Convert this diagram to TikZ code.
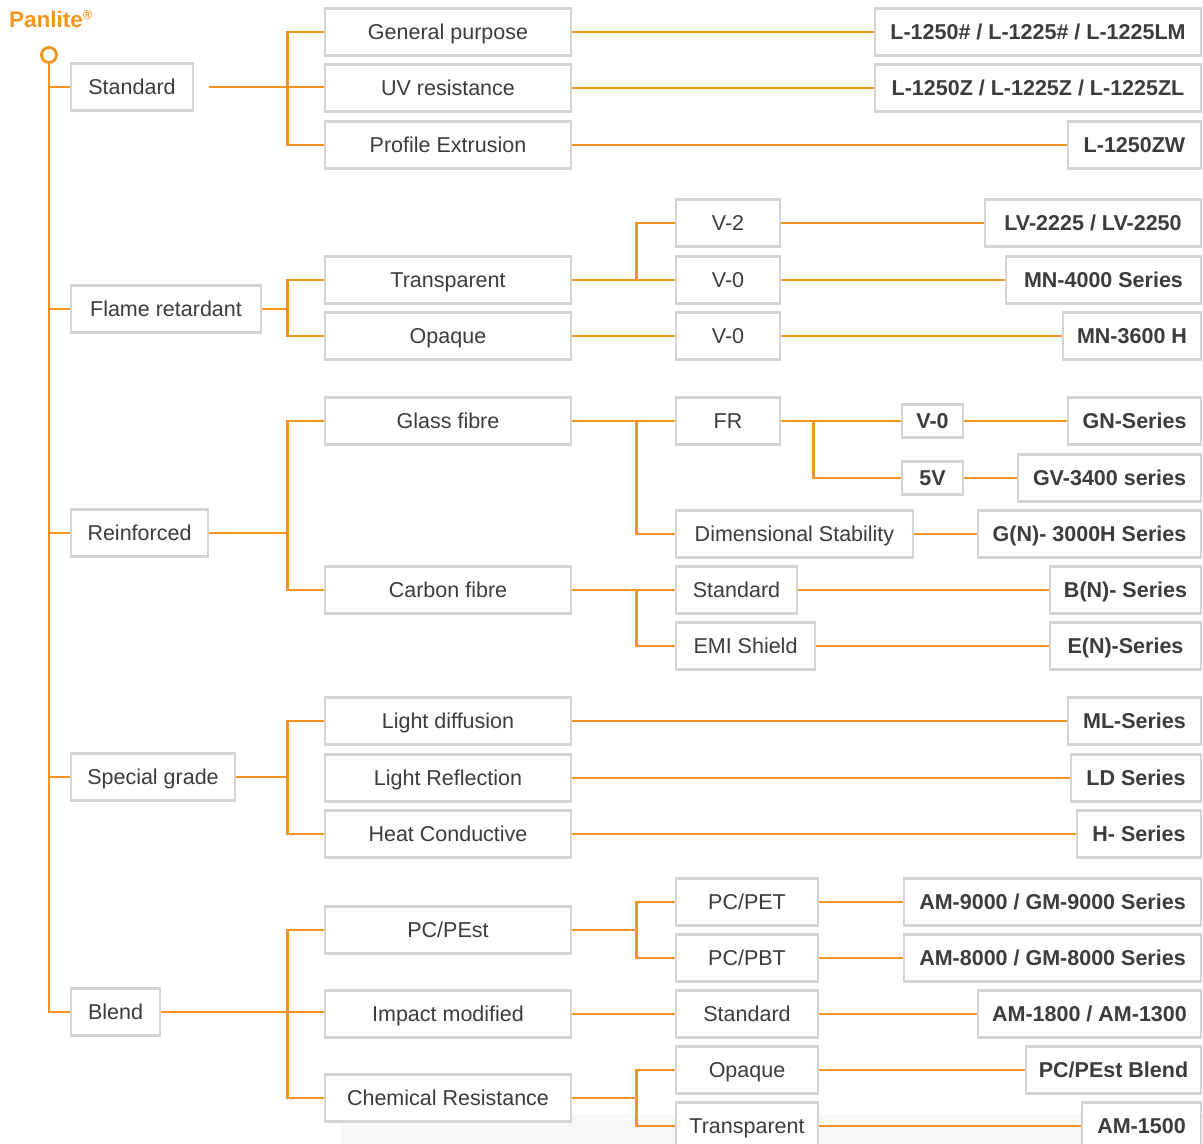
\documentclass[tikz,border=0pt]{standalone}
\usepackage{fontspec}
\setmainfont{Liberation Sans}
\definecolor{org}{HTML}{F7941D}
\definecolor{bx}{HTML}{D4D4D4}
\definecolor{tx}{HTML}{3C3C3C}
\definecolor{bg}{HTML}{F8F8F8}
\tikzset{
  bbox/.style={draw=bx, line width=2.5pt, fill=white, text=tx, inner sep=0pt,
     font=\fontsize{21.5}{24}\selectfont, text height=15.5pt, text depth=0pt, minimum height=47pt},
  pbox/.style={bbox, font=\fontsize{21.5}{24}\selectfont\bfseries},
  sbox/.style={pbox, minimum height=33pt},
  wire/.style={draw=org, line width=2.8pt},
}
\newcommand{\bxl}[6][bbox]{% style, name, left, right, cy, text
  \node[#1, minimum width=#4pt-#3pt] (#2) at ({(#3+#4)/2}, #5) {#6};}
\begin{document}
\begin{tikzpicture}[x=1pt,y=-1pt]
\useasboundingbox (0,0) rectangle (1203,1144);
\fill[bg] (341,1114) rectangle (1203,1144);
% title
\node[anchor=base west, inner sep=0pt, text=org, font=\fontsize{22.5}{24}\selectfont\bfseries] (title) at (9,27) {Panlite\textsuperscript{\fontsize{13}{13}\selectfont ®}};
\node[circle, draw=org, fill=white, line width=2.8pt, minimum size=15pt, inner sep=0pt] (root) at (49,55) {};
% level 1
\bxl{std}{71}{193}{87}{Standard}
\bxl{flr}{71}{261}{309}{Flame retardant}
\bxl{rei}{71}{208}{533}{Reinforced}
\bxl{spg}{71}{235}{777}{Special grade}
\bxl{bld}{71}{160}{1012}{Blend}
% level 2
\bxl{gp}{325}{571}{32}{General purpose}
\bxl{uv}{325}{571}{88}{UV resistance}
\bxl{pe}{325}{571}{145}{Profile Extrusion}
\bxl{tra}{325}{571}{280}{Transparent}
\bxl{opq}{325}{571}{336}{Opaque}
\bxl{gf}{325}{571}{421}{Glass fibre}
\bxl{cf}{325}{571}{590}{Carbon fibre}
\bxl{ld}{325}{571}{721}{Light diffusion}
\bxl{lr}{325}{571}{778}{Light Reflection}
\bxl{hc}{325}{571}{834}{Heat Conductive}
\bxl{pcp}{325}{571}{930}{PC/PEst}
\bxl{imp}{325}{571}{1014}{Impact modified}
\bxl{chr}{325}{571}{1098}{Chemical Resistance}
% level 3
\bxl{vtwo}{676}{780}{223}{V-2}
\bxl{vzeroa}{676}{780}{280}{V-0}
\bxl{vzerob}{676}{780}{336}{V-0}
\bxl{fr}{676}{780}{421}{FR}
\bxl{dim}{676}{913}{534}{Dimensional Stability}
\bxl{cstd}{676}{797}{590}{Standard}
\bxl{emi}{676}{815}{646}{EMI Shield}
\bxl{pet}{676}{818}{902}{PC/PET}
\bxl{pbt}{676}{818}{958}{PC/PBT}
\bxl{istd}{676}{818}{1014}{Standard}
\bxl{copq}{676}{818}{1070}{Opaque}
\bxl{ctra}{676}{818}{1126}{Transparent}
% level 4 small
\bxl[sbox]{svzero}{902}{963}{421}{V-0}
\bxl[sbox]{sfive}{902}{963}{478}{5V}
% products
\bxl[pbox]{p1}{875}{1201}{32}{L-1250\# / L-1225\# / L-1225LM}
\bxl[pbox]{p2}{875}{1201}{88}{L-1250Z / L-1225Z / L-1225ZL}
\bxl[pbox]{p3}{1068}{1201}{145}{L-1250ZW}
\bxl[pbox]{p4}{985}{1201}{223}{LV-2225 / LV-2250}
\bxl[pbox]{p5}{1006}{1201}{280}{MN-4000 Series}
\bxl[pbox]{p6}{1063}{1201}{336}{MN-3600 H}
\bxl[pbox]{p7}{1068}{1201}{421}{GN-Series}
\bxl[pbox]{p8}{1018}{1201}{478}{GV-3400 series}
\bxl[pbox]{p9}{978}{1201}{534}{G(N)- 3000H Series}
\bxl[pbox]{p10}{1050}{1201}{590}{B(N)- Series}
\bxl[pbox]{p11}{1050}{1201}{646}{E(N)-Series}
\bxl[pbox]{p12}{1068}{1201}{721}{ML-Series}
\bxl[pbox]{p13}{1071}{1201}{778}{LD Series}
\bxl[pbox]{p14}{1077}{1201}{834}{H- Series}
\bxl[pbox]{p15}{904}{1201}{902}{AM-9000 / GM-9000 Series}
\bxl[pbox]{p16}{904}{1201}{958}{AM-8000 / GM-8000 Series}
\bxl[pbox]{p17}{978}{1201}{1014}{AM-1800 / AM-1300}
\bxl[pbox]{p18}{1026}{1201}{1070}{PC/PEst Blend}
\bxl[pbox]{p19}{1082}{1201}{1126}{AM-1500}
% connectors
\begin{scope}[wire]
% trunk
\draw (root.south) |- (bld.west);
\foreach \n in {std,flr,rei,spg} \draw (\n.west) -- (\n.west -| root.south);
% Standard group
\draw ([xshift=15pt]std.east) -- (std.east -| uv.west);
\draw (gp.west) -- ++(-36,0) |- (pe.west);
\draw (gp.east) -- (p1.west);
\draw (uv.east) -- (p2.west);
\draw (pe.east) -- (p3.west);
% Flame retardant
\draw (flr.east) -- ([xshift=-36pt]flr.east -| tra.west);
\draw (tra.west) -- ++(-36,0) |- (opq.west);
\draw (tra.east) -- (vzeroa.west);
\draw (vtwo.west) -- ++(-38,0) |- (vzeroa.west);
\draw (opq.east) -- (vzerob.west);
\draw (vtwo.east) -- (p4.west);
\draw (vzeroa.east) -- (p5.west);
\draw (vzerob.east) -- (p6.west);
% Reinforced
\draw (rei.east) -- ([xshift=-36pt]rei.east -| gf.west);
\draw (gf.west) -- ++(-36,0) |- (cf.west);
\draw (gf.east) -- (fr.west);
\draw (fr.west) -- ++(-38,0) |- (dim.west);
\draw (fr.east) -- (svzero.west);
\draw (svzero.west) -- ++(-87,0) |- (sfive.west);
\draw (svzero.east) -- (p7.west);
\draw (sfive.east) -- (p8.west);
\draw (dim.east) -- (p9.west);
\draw (cf.east) -- (cstd.west);
\draw (cstd.west) -- ++(-38,0) |- (emi.west);
\draw (cstd.east) -- (p10.west);
\draw (emi.east) -- (p11.west);
% Special grade
\draw (spg.east) -- ([xshift=-36pt]spg.east -| lr.west);
\draw (ld.west) -- ++(-36,0) |- (hc.west);
\draw (ld.east) -- (p12.west);
\draw (lr.east) -- (p13.west);
\draw (hc.east) -- (p14.west);
% Blend
\draw (bld.east) -- (bld.east -| imp.west);
\draw (pcp.west) -- ++(-36,0) |- (chr.west);
\draw (pcp.east) -- ([xshift=-38pt]pcp.east -| pet.west);
\draw (pet.west) -- ++(-38,0) |- (pbt.west);
\draw (pet.east) -- (p15.west);
\draw (pbt.east) -- (p16.west);
\draw (imp.east) -- (istd.west);
\draw (istd.east) -- (p17.west);
\draw (chr.east) -- ([xshift=-38pt]chr.east -| copq.west);
\draw (copq.west) -- ++(-38,0) |- (ctra.west);
\draw (copq.east) -- (p18.west);
\draw (ctra.east) -- (p19.west);
\end{scope}
\end{tikzpicture}
\end{document}
